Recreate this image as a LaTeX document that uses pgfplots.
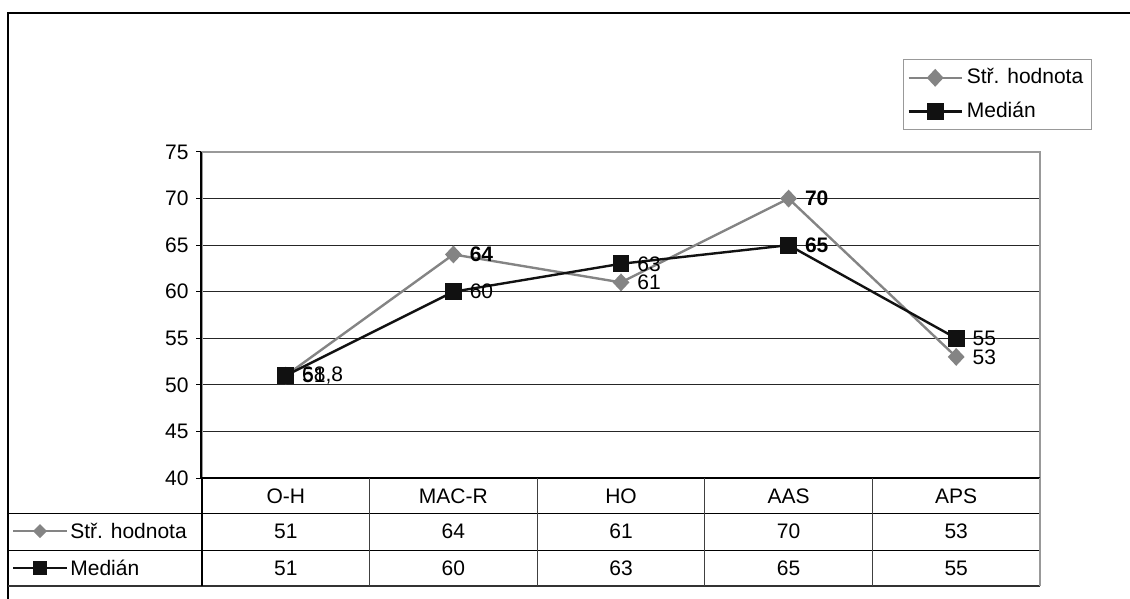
\documentclass[border=0pt]{standalone}
\usepackage{fontspec}
\setmainfont{Liberation Sans}
\usepackage{pgfplots}
\pgfplotsset{compat=1.18}
\definecolor{meangray}{HTML}{848484}
\definecolor{medblack}{HTML}{111111}
\begin{document}
\fontsize{10.5}{12.6}\selectfont
\begin{tikzpicture}
\path[use as bounding box] (0pt,0pt) rectangle (565pt,-299.5pt);
\begin{axis}[
    at={(101pt,-239pt)}, anchor=south west,
    scale only axis, width=419pt, height=163pt,
    xmin=-0.5, xmax=4.5, ymin=40, ymax=75,
    xtick=\empty, ytick={40,45,...,75},
    ymajorgrids, grid style={black!85, line width=0.5pt},
    axis line style={draw=gray!80, line width=0.8pt},
    tick align=outside, ytick pos=left,
    tick style={black, line width=0.5pt}, major tick length=3pt,
    /pgf/number format/assume math mode=true,
    yticklabel style={font=\fontsize{10.5}{12.6}\selectfont},
    clip=false,
    legend style={at={(0.8365,1.285)}, anchor=north west,
        draw=gray!80, line width=0.5pt,
        inner xsep=2pt, inner ysep=2.5pt, row sep=3.5pt,
        font=\fontsize{10.5}{12.6}\selectfont,
        cells={anchor=west, inner xsep=2.5pt}},
    legend image code/.code={
        \draw[mark repeat=2,mark phase=2,#1]
        plot coordinates {(0pt,0pt) (13.25pt,0pt) (26.5pt,0pt)};},
]
\addplot[meangray, line width=1.2pt, mark=diamond*, mark size=3.6pt,
    mark options={solid, fill=meangray, draw=meangray, xscale=1.25}]
    coordinates {(0,51) (1,64) (2,61) (3,70) (4,53)};
\addlegendentry{Stř. hodnota}
\addplot[medblack, line width=1.2pt, mark=square*, mark size=3.6pt,
    mark options={solid, fill=medblack, draw=medblack}]
    coordinates {(0,51) (1,60) (2,63) (3,65) (4,55)};
\addlegendentry{Medián}

\tikzset{lbl/.style={anchor=west, inner sep=0pt, xshift=8pt}}
\node[lbl] at (axis cs:0,51) {51};
\node[lbl] at (axis cs:0,51) {68,8};
\node[lbl] at (axis cs:1,64) {\textbf{64}};
\node[lbl] at (axis cs:2,61) {61};
\node[lbl] at (axis cs:3,70) {\textbf{70}};
\node[lbl] at (axis cs:4,53) {53};
\node[lbl] at (axis cs:1,60) {60};
\node[lbl] at (axis cs:2,63) {63};
\node[lbl] at (axis cs:3,65) {\textbf{65}};
\node[lbl] at (axis cs:4,55) {55};
\end{axis}

\begin{scope}[x=0.5pt, y=-0.5pt]
  % outer frame
  \draw[black, line width=0.6pt] (8,599) -- (8,13) -- (1130,13);
  % axis left and bottom lines
  \draw[black, line width=0.8pt] (201,152) -- (201,478) -- (1040,478);
  % data table
  \draw[black, line width=0.5pt] (8,513) -- (1040,513);
  \draw[black, line width=0.5pt] (8,550) -- (1040,550);
  \draw[black!80, line width=0.6pt] (8,586) -- (1040,586);
  \draw[black, line width=0.6pt] (202,478) -- (202,586);
  \foreach \cx in {369.6,537.2,704.8,872.4}
    \draw[black!75, line width=0.6pt] (\cx,478) -- (\cx,586);
  \draw[gray!80, line width=0.8pt] (1040,478) -- (1040,586);
  % header and values
  \foreach \lab [count=\i from 0] in {O-H,MAC-R,HO,AAS,APS}
    \node at ({285.8+167.6*\i},496) {\lab};
  \foreach \v [count=\i from 0] in {51,64,61,70,53}
    \node at ({285.8+167.6*\i},531) {\v};
  \foreach \v [count=\i from 0] in {51,60,63,65,55}
    \node at ({285.8+167.6*\i},568) {\v};
  % row keys
  \draw[meangray, line width=1.2pt] (13,531) -- (67,531);
  \fill[meangray] (40,524) -- (47,531) -- (40,538) -- (33,531) -- cycle;
  \node[anchor=west, inner sep=0pt] at (70,531) {Stř. hodnota};
  \draw[medblack, line width=1.2pt] (13,568) -- (67,568);
  \fill[medblack] (33,561) rectangle (47,575);
  \node[anchor=west, inner sep=0pt] at (70,568) {Medián};
\end{scope}
\end{tikzpicture}
\end{document}
